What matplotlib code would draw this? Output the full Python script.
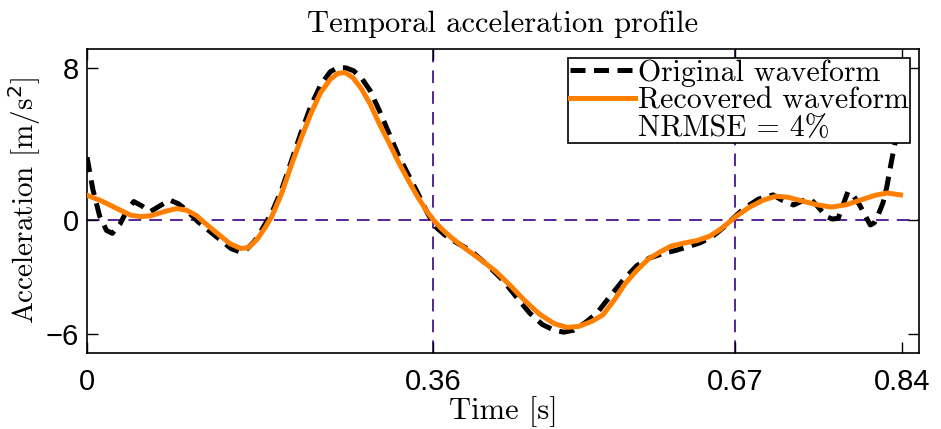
import matplotlib
matplotlib.use('Agg')
import matplotlib.pyplot as plt
from matplotlib.lines import Line2D

# values
t_orig = [0.000, 0.006, 0.013, 0.020, 0.026, 0.034, 0.041, 0.048, 0.056, 0.065,
          0.075, 0.085, 0.094, 0.102, 0.114, 0.125, 0.137, 0.148, 0.157, 0.165,
          0.174, 0.182, 0.190, 0.200, 0.210, 0.220, 0.230, 0.240, 0.250, 0.258,
          0.266, 0.274, 0.283, 0.291, 0.300, 0.310, 0.320, 0.330, 0.340, 0.350,
          0.358, 0.368, 0.380, 0.394, 0.410, 0.428, 0.442, 0.455, 0.468, 0.480,
          0.490, 0.500, 0.512, 0.524, 0.537, 0.551, 0.565, 0.578, 0.592, 0.605,
          0.618, 0.630, 0.642, 0.654, 0.664, 0.675, 0.690, 0.705, 0.714, 0.726,
          0.735, 0.743, 0.752, 0.760, 0.766, 0.772, 0.777, 0.782, 0.788, 0.794,
          0.800, 0.805, 0.809, 0.813, 0.818, 0.822, 0.827, 0.831, 0.836]
a_orig = [3.30, 1.60, 0.20, -0.55, -0.70, -0.20, 0.50, 0.97, 0.75, 0.44,
          0.75, 1.05, 0.85, 0.53, -0.09, -0.55, -1.05, -1.50, -1.68, -1.50,
          -1.00, -0.30, 0.40, 1.60, 3.10, 4.60, 6.00, 7.10, 7.80, 8.02,
          8.00, 7.85, 7.40, 6.80, 5.80, 4.60, 3.40, 2.40, 1.40, 0.35,
          -0.35, -0.80, -1.20, -1.60, -2.30, -3.20, -4.10, -4.90, -5.50, -5.80,
          -5.90, -5.80, -5.40, -4.90, -4.05, -3.16, -2.40, -2.00, -1.76, -1.60,
          -1.40, -1.20, -0.90, -0.40, 0.09, 0.60, 1.10, 1.32, 1.05, 0.79,
          1.00, 1.14, 0.65, 0.17, 0.05, 0.09, 0.80, 1.49, 1.25, 0.79,
          0.20, -0.26, -0.15, 0.26, 0.90, 1.76, 3.16, 4.20, 5.20]

t_rec = [0.000, 0.015, 0.030, 0.045, 0.055, 0.065, 0.080, 0.092, 0.102, 0.112,
         0.122, 0.135, 0.147, 0.158, 0.166, 0.175, 0.183, 0.190, 0.200, 0.210,
         0.220, 0.230, 0.240, 0.250, 0.258, 0.265, 0.273, 0.282, 0.291, 0.300,
         0.310, 0.320, 0.330, 0.340, 0.350, 0.356, 0.365, 0.375, 0.390, 0.405,
         0.420, 0.435, 0.450, 0.465, 0.480, 0.493, 0.505, 0.518, 0.530, 0.542,
         0.553, 0.565, 0.577, 0.590, 0.600, 0.613, 0.627, 0.640, 0.652, 0.666,
         0.680, 0.695, 0.708, 0.720, 0.735, 0.750, 0.765, 0.780, 0.795, 0.810,
         0.822, 0.836]
a_rec = [1.30, 1.00, 0.62, 0.25, 0.18, 0.22, 0.45, 0.60, 0.52, 0.25,
         -0.20, -0.75, -1.25, -1.50, -1.45, -1.00, -0.40, 0.20, 1.40, 2.90,
         4.30, 5.60, 6.70, 7.40, 7.72, 7.75, 7.50, 6.90, 6.10, 5.10,
         4.10, 3.05, 2.10, 1.20, 0.40, 0.00, -0.50, -0.95, -1.55, -2.10,
         -2.70, -3.45, -4.25, -4.95, -5.45, -5.65, -5.60, -5.35, -5.00, -4.20,
         -3.35, -2.65, -2.05, -1.65, -1.38, -1.22, -1.08, -0.85, -0.45, 0.15,
         0.65, 1.05, 1.25, 1.20, 1.00, 0.80, 0.68, 0.80, 1.05, 1.30,
         1.42, 1.32]

xticks = [0, 0.356, 0.666, 0.838]
xticklabels = ['0', '0.36', '0.67', '0.84']
yticks = [-6, 0, 8]
yticklabels = ['\u22126', '0', '8']
vlines = [0.356, 0.666]

serif = ['cmr10', 'DejaVu Serif']
sans = ['Liberation Sans', 'DejaVu Sans']
purple = '#4a1490'

fig = plt.figure(figsize=(9.41, 4.29), dpi=100)
ax = fig.add_axes([0.0925, 0.177, 0.8841, 0.709])

ax.axhline(0, color=purple, lw=1.3, dashes=(7, 4.5), zorder=1)
for v in vlines:
    ax.axvline(v, color=purple, lw=1.3, dashes=(7, 4.5), zorder=1)

ax.plot(t_orig, a_orig, color='black', lw=3.6, dashes=(3, 1.7), zorder=2,
        label='Original waveform')
ax.plot(t_rec, a_rec, color='#ff7f00', lw=3.6, zorder=3,
        label='Recovered waveform')

ax.set_xlim(0, 0.855)
ax.set_ylim(-7, 9)
ax.set_xticks(xticks)
ax.set_xticklabels(xticklabels, fontsize=21, family=sans)
ax.set_yticks(yticks)
ax.set_yticklabels(yticklabels, fontsize=21, family=sans)
ax.tick_params(direction='in', top=True, right=True, length=8, width=1.0)
ax.tick_params(axis='x', pad=11)
ax.tick_params(axis='y', pad=6)
for s in ax.spines.values():
    s.set_linewidth(1.2)

ax.set_title('Temporal acceleration profile', fontsize=22, family=serif, pad=12)
ax.set_xlabel('Time [s]', fontsize=22, family=serif, labelpad=0)
ax.set_ylabel('Acceleration [m/s$^2$]', fontsize=21, family=serif, labelpad=2)

handles, labels = ax.get_legend_handles_labels()
handles.append(Line2D([], [], color='none'))
labels.append('NRMSE = 4%')
leg = ax.legend(handles, labels, loc='upper right',
                prop={'family': serif, 'size': 21.5}, fancybox=False,
                framealpha=1, edgecolor='black', handlelength=2.2,
                handletextpad=0.08, borderpad=0.05, labelspacing=0.0,
                borderaxespad=0.3)
leg.get_frame().set_linewidth(1.2)

plt.savefig('out.png', dpi=100)
